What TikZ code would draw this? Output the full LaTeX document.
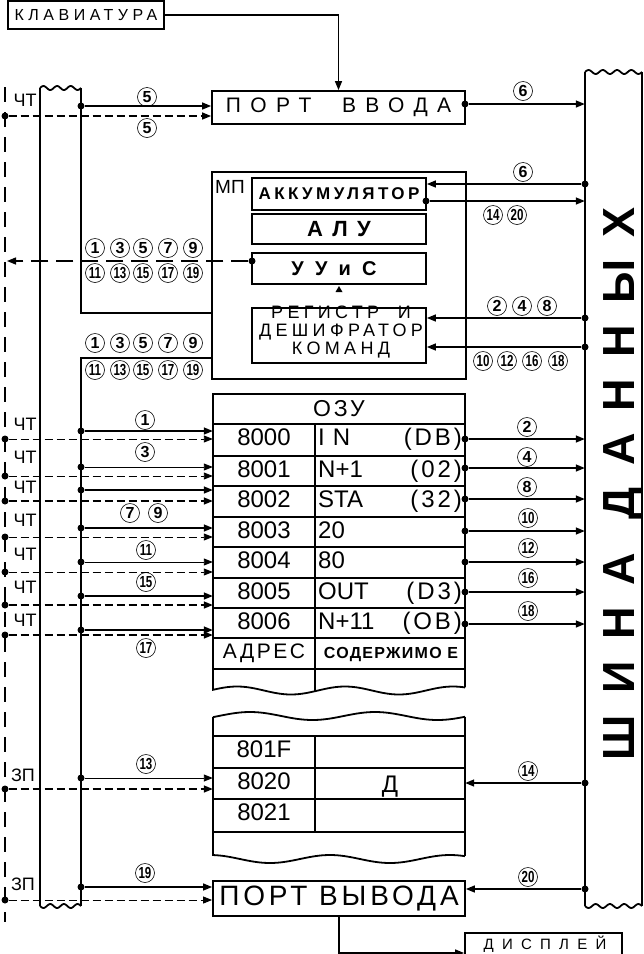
\documentclass[tikz,border=0pt]{standalone}
\usepackage{fontspec}
\setmainfont{Liberation Sans}
\usetikzlibrary{arrows.meta}
\newcommand{\fs}[1]{\fontsize{#1}{#1}\selectfont}
\newcommand{\ls}[1]{\addfontfeature{LetterSpace=#1}}
\newcommand{\dd}[1]{\scalebox{0.72}[1]{#1}}

\begin{document}
\begin{tikzpicture}[x=1pt, y=-1pt,
  box/.style={draw, line width=1.8pt, inner sep=0pt},
  wire/.style={line width=1.8pt},
  sig/.style={line width=1.4pt, -{Triangle[length=9pt,width=7pt]}},
  thinsig/.style={sig, line width=0.9pt},
  dsig/.style={sig, dash pattern=on 8pt off 4pt},
  thindsig/.style={dsig, line width=0.9pt},
  dot/.style={circle, fill, inner sep=0pt, minimum size=7pt},
  num/.style={circle, draw, line width=0.6pt, inner sep=0pt, minimum size=19pt, font=\bfseries\fs{16}},
  lbl/.style={inner sep=0pt, font=\fs{18}},
  cell/.style={inner sep=0pt, anchor=base, font=\fs{24}}]
  \clip (0,0) rectangle (644,954);

  % keyboard and input port
  \node[box, minimum width=156pt, minimum height=28pt, font=\fs{16}\ls{28}] (kbd) at (86,15) {КЛАВИАТУРА};
  \node[box, minimum width=253pt, minimum height=33pt, font=\fs{21}\ls{45}] (portin) at (338.5,107.5) {ПОРТ\ \ ВВОДА};
  \draw[sig] (kbd.east) -| (portin.north);

  % buses
  \node[inner sep=0pt, minimum width=41pt, minimum height=818pt] (lbus) at (60.5,497) {};
  \node[inner sep=0pt, minimum width=57pt, minimum height=834pt] (bus) at (613.5,489) {};
  \coordinate (mpin) at (212,313);
  \coordinate (mpout) at (212,358);
  \draw[wire] (lbus.north west) -- (lbus.south west);
  \draw[wire] (lbus.north east) |- (mpin);
  \draw[wire] (mpout) -| (lbus.south east);
  \draw[wire] plot[domain=40:81, samples=40, smooth] ({\x},{88-2*sin(1080/41*(\x-40))});
  \draw[wire] plot[domain=40:81, samples=40, smooth] ({\x},{906+2*sin(1080/41*(\x-40))});
  \draw[wire] (bus.north west) -- (bus.south west);
  \draw[wire] (bus.north east) -- (bus.south east);
  \draw[wire] plot[domain=585:642, samples=50, smooth] ({\x},{72-2*sin(1440/57*(\x-585))});
  \draw[wire] plot[domain=585:642, samples=50, smooth] ({\x},{906+2*sin(1440/57*(\x-585))});
  \node[rotate=90, anchor=base, inner sep=0pt, font=\bfseries\fs{45}\ls{48}] (bustxt) at (634,484) {ШИНА ДАННЫХ};
  \coordinate (ctltop) at (5,87);
  \coordinate (ctlbot) at (5,922);
  \draw[line width=1.4pt, dash pattern=on 15pt off 10pt] (ctltop) -- (ctlbot);

  % microprocessor
  \node[box, minimum width=254pt, minimum height=207pt] (mp) at (339,275.5) {};
  \node[anchor=base west, inner sep=0pt, font=\fs{19}] (mplbl) at (215,193) {МП};
  \node[box, minimum width=174pt, minimum height=32pt, font=\bfseries\fs{17}\ls{20}] (acc) at (339,194) {АККУМУЛЯТОР};
  \node[box, minimum width=174pt, minimum height=30pt, font=\bfseries\fs{22}\ls{15}] (alu) at (339,229) {А Л У};
  \node[box, minimum width=174pt, minimum height=31pt] (uus) at (339,268.5) {};
  \node[inner sep=0pt, font=\bfseries\fs{20}\ls{28}] (uustxt) at (334,268.5) {У У и С};
  \node[box, minimum width=174pt, minimum height=55pt] (reg) at (339,335.5) {};
  \node[anchor=north, inner sep=0pt, align=center, font=\fs{18}\ls{24}] (regtxt) at (341,306) {РЕГИСТР\ \ И\\ДЕШИФРАТОР\\КОМАНД};
  \fill (335.5,292) -- (342.5,292) -- (339,286) -- cycle;

  % input port connections
  \node[dot] (l0) at (81,106) {};
  \node[dot] (c0) at (5,116) {};
  \draw[sig] (l0) -- (l0 -| portin.west);
  \draw[dsig] (c0) -- (c0 -| portin.west);
  \node[lbl] (r0) at (25,100) {ЧТ};
  \node[num] (n5a) at (147,97) {5};
  \node[num] (n5b) at (147,128) {5};
  \node[dot] (pin) at (465,104) {};
  \draw[sig] (pin) -- (pin -| bus.west);
  \node[num] (n6a) at (523,91) {6};

  % microprocessor connections
  \node[dot] (b1) at (585,184) {};
  \draw[sig] (b1) -- (b1 -| acc.east);
  \node[num] (n6b) at (523,172) {6};
  \node[dot] (accout) at (426,201) {};
  \draw[sig] (accout) -- (accout -| bus.west);
  \node[num] (n14a) at (493,215) {\dd{14}};
  \node[num] (n20a) at (517,215) {\dd{20}};
  \node[dot] (b2) at (585,318) {};
  \draw[sig] (b2) -- (b2 -| reg.east);
  \node[num] (n2a) at (497,306) {2};
  \node[num] (n4a) at (522,306) {4};
  \node[num] (n8a) at (547,306) {8};
  \node[dot] (b3) at (585,347) {};
  \draw[sig] (b3) -- (b3 -| reg.east);
  \node[num] (n10a) at (483,361) {\dd{10}};
  \node[num] (n12a) at (507,361) {\dd{12}};
  \node[num] (n16a) at (532,361) {\dd{16}};
  \node[num] (n18a) at (558,361) {\dd{18}};
  \node[dot] (uusdot) at (252,261) {};
  \coordinate (ctlin) at (7,261);
  \draw[sig, dash pattern=on 17pt off 8pt] (uusdot) -- (ctlin);
  \node[num] (u1) at (95,248) {1};
  \node[num] (u3) at (120,248) {3};
  \node[num] (u5) at (143,248) {5};
  \node[num] (u7) at (168,248) {7};
  \node[num] (u9) at (193,248) {9};
  \node[num] (u11) at (95,273) {\dd{11}};
  \node[num] (u13) at (120,273) {\dd{13}};
  \node[num] (u15) at (143,273) {\dd{15}};
  \node[num] (u17) at (168,273) {\dd{17}};
  \node[num] (u19) at (193,273) {\dd{19}};
  \node[num] (v1) at (95,343) {1};
  \node[num] (v3) at (120,343) {3};
  \node[num] (v5) at (143,343) {5};
  \node[num] (v7) at (168,343) {7};
  \node[num] (v9) at (193,343) {9};
  \node[num] (v11) at (95,370) {\dd{11}};
  \node[num] (v13) at (120,370) {\dd{13}};
  \node[num] (v15) at (143,370) {\dd{15}};
  \node[num] (v17) at (168,370) {\dd{17}};
  \node[num] (v19) at (193,370) {\dd{19}};

  % RAM, first page
  \node[inner sep=0pt, minimum width=252pt, minimum height=296pt] (ozu) at (339,542) {};
  \draw[wire] (465,687.4) -- (465,394) -- (213,394) -- (213,689.8)
    -- plot[domain=213:465, samples=80, smooth] ({\x},{690.5-4*cos(360/108*(\x-237))});
  \draw[wire] (213,424) -- (465,424) (213,456) -- (465,456) (213,486) -- (465,486)
    (213,517) -- (465,517) (213,547) -- (465,547) (213,578) -- (465,578)
    (213,608) -- (465,608) (213,638) -- (465,638) (213,669) -- (465,669);
  \draw[wire] (315,424) -- (315,691);
  \node[inner sep=0pt, font=\fs{23}\ls{12}] (ozut) at (339,409) {ОЗУ};
  \node[cell] (a0) at (264,445.5) {8000};
  \node[cell] (a1) at (264,477.5) {8001};
  \node[cell] (a2) at (264,507.5) {8002};
  \node[cell] (a3) at (264,538.5) {8003};
  \node[cell] (a4) at (264,568.5) {8004};
  \node[cell] (a5) at (264,599.5) {8005};
  \node[cell] (a6) at (264,629.5) {8006};
  \node[cell, font=\fs{21}\ls{12}] (a7) at (264,658) {АДРЕС};
  \node[cell, anchor=base west] (k0) at (318,445.5) {I\,\,N};
  \node[cell, anchor=base west] (k1) at (318,477.5) {N+1};
  \node[cell, anchor=base west] (k2) at (318,507.5) {STA};
  \node[cell, anchor=base west] (k3) at (318,538.5) {20};
  \node[cell, anchor=base west] (k4) at (318,568.5) {80};
  \node[cell, anchor=base west] (k5) at (318,599.5) {OUT};
  \node[cell, anchor=base west] (k6) at (318,629.5) {N+11};
  \node[cell, font=\bfseries\fs{16}\ls{8}] (k7) at (391,658) {СОДЕРЖИМО Е};
  \node[cell, anchor=base east, font=\fs{24}\ls{12}] (p0) at (462,445.5) {(DB)};
  \node[cell, anchor=base east, font=\fs{24}\ls{12}] (p1) at (462,477.5) {(02)};
  \node[cell, anchor=base east, font=\fs{24}\ls{12}] (p2) at (462,507.5) {(32)};
  \node[cell, anchor=base east, font=\fs{24}\ls{12}] (p5) at (462,599.5) {(D3)};
  \node[cell, anchor=base east, font=\fs{24}\ls{12}] (p6) at (462,629.5) {(OB)};

  % RAM rows to data bus
  \node[dot] (o0) at (465,439) {};
  \node[dot] (o1) at (465,468) {};
  \node[dot] (o2) at (465,499) {};
  \node[dot] (o3) at (465,531) {};
  \node[dot] (o4) at (465,562) {};
  \node[dot] (o5) at (465,592) {};
  \node[dot] (o6) at (465,624) {};
  \draw[sig] (o0) -- (o0 -| bus.west);
  \draw[sig] (o1) -- (o1 -| bus.west);
  \draw[sig] (o2) -- (o2 -| bus.west);
  \draw[sig] (o3) -- (o3 -| bus.west);
  \draw[sig] (o4) -- (o4 -| bus.west);
  \draw[sig] (o5) -- (o5 -| bus.west);
  \draw[sig] (o6) -- (o6 -| bus.west);
  \node[num] (n2b) at (527,427) {2};
  \node[num] (n4b) at (527,457) {4};
  \node[num] (n8b) at (527,487) {8};
  \node[num] (n10b) at (528,518) {\dd{10}};
  \node[num] (n12b) at (528,548) {\dd{12}};
  \node[num] (n16b) at (528,578) {\dd{16}};
  \node[num] (n18b) at (528,611) {\dd{18}};

  % address and read lines to RAM
  \node[dot] (l1) at (81,431) {};
  \node[dot] (l2) at (81,467) {};
  \node[dot] (l3) at (81,490) {};
  \node[dot] (l4) at (81,528) {};
  \node[dot] (l5) at (81,562) {};
  \node[dot] (l6) at (81,596) {};
  \node[dot] (l7) at (81,630) {};
  \node[dot] (c1) at (5,439) {};
  \node[dot] (c2) at (5,476) {};
  \node[dot] (c3) at (5,501) {};
  \node[dot] (c4) at (5,537) {};
  \node[dot] (c5) at (5,572) {};
  \node[dot] (c6) at (5,605) {};
  \node[dot] (c7) at (5,635) {};
  \draw[sig] (l1) -- (l1 -| ozu.west);
  \draw[thinsig] (l2) -- (l2 -| ozu.west);
  \draw[sig] (l3) -- (l3 -| ozu.west);
  \draw[sig] (l4) -- (l4 -| ozu.west);
  \draw[thinsig] (l5) -- (l5 -| ozu.west);
  \draw[sig] (l6) -- (l6 -| ozu.west);
  \draw[sig] (l7) -- (l7 -| ozu.west);
  \draw[thindsig] (c1) -- (c1 -| ozu.west);
  \draw[thindsig] (c2) -- (c2 -| ozu.west);
  \draw[dsig] (c3) -- (c3 -| ozu.west);
  \draw[thindsig] (c4) -- (c4 -| ozu.west);
  \draw[thindsig] (c5) -- (c5 -| ozu.west);
  \draw[dsig] (c6) -- (c6 -| ozu.west);
  \draw[dsig] (c7) -- (c7 -| ozu.west);
  \node[lbl] (r1) at (25,424) {ЧТ};
  \node[lbl] (r2) at (25,457) {ЧТ};
  \node[lbl] (r3) at (25,487) {ЧТ};
  \node[lbl] (r4) at (25,520) {ЧТ};
  \node[lbl] (r5) at (25,554) {ЧТ};
  \node[lbl] (r6) at (25,587) {ЧТ};
  \node[lbl] (r7) at (25,620) {ЧТ};
  \node[num] (n1) at (145,420) {1};
  \node[num] (n3) at (145,452) {3};
  \node[num] (n7) at (130,513) {7};
  \node[num] (n9) at (158,513) {9};
  \node[num] (n11) at (146,550) {\dd{11}};
  \node[num] (n15) at (146,582) {\dd{15}};
  \node[num] (n17) at (146,648) {\dd{17}};

  % RAM, second page
  \node[inner sep=0pt, minimum width=252pt, minimum height=145pt] (mem) at (339,785.5) {};
  \draw[wire] plot[domain=213:465, samples=80, smooth] ({\x},{716-4*cos(360/125*(\x-250))});
  \draw[wire] (465,716.7) -- (465,856.2);
  \draw[wire] (213,717.1) -- (213,855)
    -- plot[domain=213:465, samples=80, smooth] ({\x},{859-4*cos(3*(\x-330))});
  \draw[wire] (213,736) -- (465,736) (213,768) -- (465,768) (213,799) -- (465,799) (213,832) -- (465,832);
  \draw[wire] (315,736) -- (315,832);
  \node[cell] (m0) at (264,757.5) {801F};
  \node[cell] (m1) at (264,789.5) {8020};
  \node[cell] (m2) at (264,820.5) {8021};
  \node[cell] (dval) at (390,792) {Д};
  \node[dot] (l8) at (81,778) {};
  \node[dot] (c8) at (5,789) {};
  \draw[thinsig] (l8) -- (l8 -| mem.west);
  \draw[dsig] (c8) -- (c8 -| mem.west);
  \node[lbl] (w1) at (23,775) {ЗП};
  \node[num] (n13) at (146,764) {\dd{13}};
  \node[dot] (b4) at (585,783) {};
  \draw[sig] (b4) -- (b4 -| mem.east);
  \node[num] (n14b) at (528,771) {\dd{14}};

  % output port and display
  \node[box, minimum width=252pt, minimum height=35pt, font=\fs{28}\ls{14}] (portout) at (339,898.5) {ПОРТ ВЫВОДА};
  \node[dot] (l9) at (81,887) {};
  \node[dot] (c9) at (5,900) {};
  \draw[sig] (l9) -- (l9 -| portout.west);
  \draw[thindsig] (c9) -- (c9 -| portout.west);
  \node[lbl] (w2) at (23,884) {ЗП};
  \node[num] (n19) at (145,873) {\dd{19}};
  \node[dot] (b5) at (585,889) {};
  \draw[sig] (b5) -- (b5 -| portout.east);
  \node[num] (n20b) at (528,877) {\dd{20}};
  \node[box, minimum width=157pt, minimum height=40pt] (disp) at (543.5,953) {};
  \node[anchor=base, inner sep=0pt, font=\fs{15}\ls{55}] (disptxt) at (545,949.5) {ДИСПЛЕЙ};
  \draw[sig] (portout.south) |- (disp.west);
\end{tikzpicture}
\end{document}
